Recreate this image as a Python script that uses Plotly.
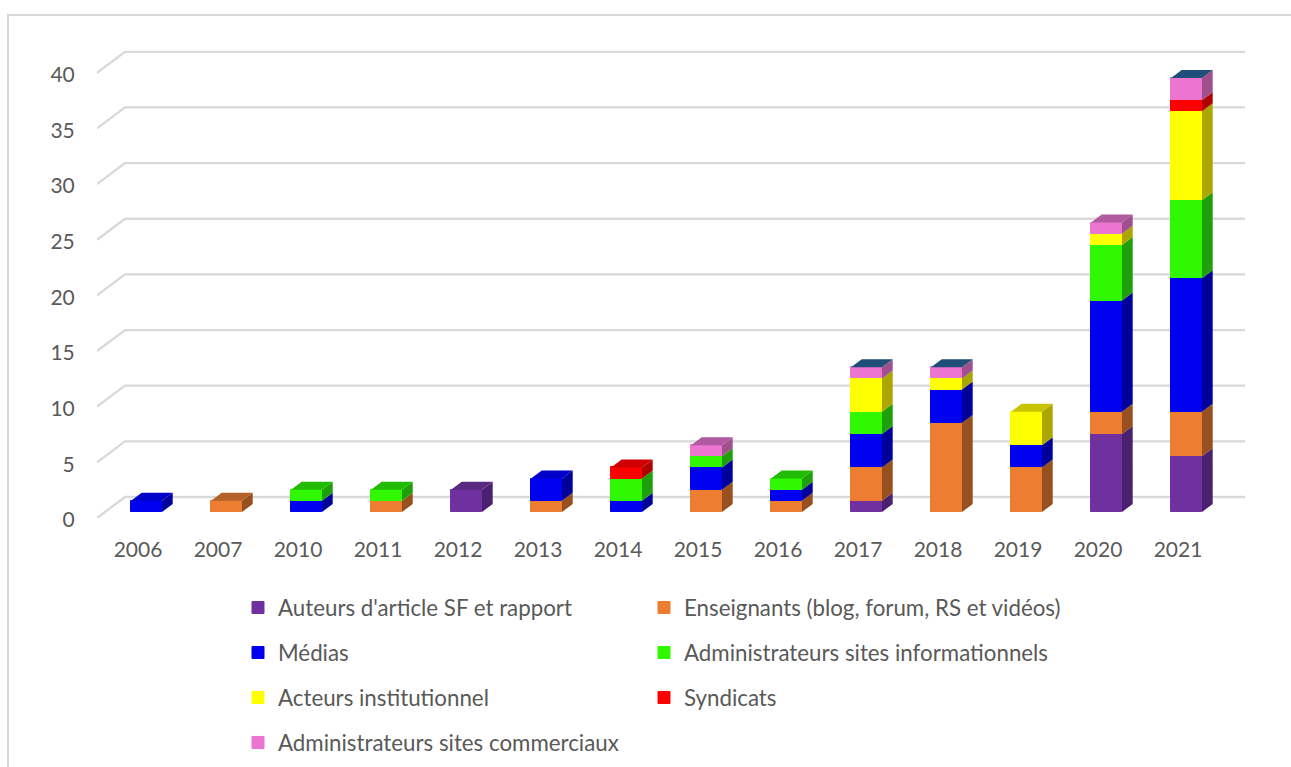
import plotly.graph_objects as go

years = ["2006", "2007", "2010", "2011", "2012", "2013", "2014", "2015", "2016", "2017", "2018", "2019", "2020", "2021"]
series_names = [
    "Auteurs d'article SF et rapport",
    "Enseignants (blog, forum, RS et vidéos)",
    "Médias",
    "Administrateurs sites informationnels",
    "Acteurs institutionnel",
    "Syndicats",
    "Administrateurs sites commerciaux",
]
auteurs = [0, 0, 0, 0, 2, 0, 0, 0, 0, 1, 0, 0, 7, 5]
enseignants = [0, 1, 0, 1, 0, 1, 0, 2, 1, 3, 8, 4, 2, 4]
medias = [1, 0, 1, 0, 0, 2, 1, 2, 1, 3, 3, 2, 10, 12]
admin_info = [0, 0, 1, 1, 0, 0, 2, 1, 1, 2, 0, 0, 5, 7]
acteurs = [0, 0, 0, 0, 0, 0, 0, 0, 0, 3, 1, 3, 1, 8]
syndicats = [0, 0, 0, 0, 0, 0, 1, 0, 0, 0, 0, 0, 0, 1]
admin_comm = [0, 0, 0, 0, 0, 0, 0, 1, 0, 1, 1, 0, 1, 2]
# Years whose stack is capped by an empty, unnamed extra series (dark lid in the picture)
capped_years = ["2017", "2018", "2021"]
y_ticks = [0, 5, 10, 15, 20, 25, 30, 35, 40]

all_series = [auteurs, enseignants, medias, admin_info, acteurs, syndicats, admin_comm]
front_colors = ["#7030A0", "#ED7D31", "#0000F0", "#30F800", "#FFFF00", "#FF0000", "#EC75D0"]
side_colors = ["#4A2070", "#98501F", "#00009A", "#1F9F0A", "#ABA600", "#B00000", "#A0508C"]
top_colors = ["#5A2A80", "#B5622A", "#0000C8", "#22BB05", "#C8C400", "#D00000", "#B05AA0"]
cap_color = "#1F4E79"
font = "Lato"
text_color = "#595959"
grid_color = "#D9D9D9"

PX_X, PX_Y = 80.0, 11.13
BAR_W = 31 / PX_X
OFF_X, OFF_Y = 9.5 / PX_X, 6.0 / PX_Y
DEP_X, DEP_Y = 10.7 / PX_X, 8.0 / PX_Y
WALL_X, WALL_Y = 28 / PX_X, 21 / PX_Y

PL, PR, PT, PB = 97, 1245, 40, 518
W, H = 1291, 767
xs = list(range(len(years)))

fig = go.Figure()

totals = [sum(s[i] for s in all_series) for i in xs]
cum = [0.0] * len(xs)
for k, (name, vals) in enumerate(zip(series_names, all_series)):
    bases = [c + OFF_Y for c in cum]
    fig.add_bar(
        x=[i + OFF_X for i in xs],
        y=[v if v else None for v in vals],
        base=bases,
        width=BAR_W,
        name=name,
        marker=dict(color=front_colors[k], line=dict(color=front_colors[k], width=1)),
        legend="legend" if k % 2 == 0 else "legend2",
        legendgroup=name,
        hoverinfo="skip",
    )
    sx, sy, tx, ty, cx, cy = [], [], [], [], [], []
    for i in xs:
        if not vals[i]:
            continue
        b, t = bases[i], bases[i] + vals[i]
        left, right = i + OFF_X - BAR_W / 2, i + OFF_X + BAR_W / 2
        sx += [right, right + DEP_X, right + DEP_X, right, right, None]
        sy += [b, b + DEP_Y, t + DEP_Y, t, b, None]
        if cum[i] + vals[i] == totals[i]:
            px_, py_ = (cx, cy) if years[i] in capped_years else (tx, ty)
            px_ += [left, right, right + DEP_X, left + DEP_X, left, None]
            py_ += [t, t, t + DEP_Y, t + DEP_Y, t, None]
    fig.add_scatter(x=sx, y=sy, mode="none", fill="toself", fillcolor=side_colors[k],
                    showlegend=False, hoverinfo="skip")
    if tx:
        fig.add_scatter(x=tx, y=ty, mode="none", fill="toself", fillcolor=top_colors[k],
                        showlegend=False, hoverinfo="skip")
    if cx:
        fig.add_scatter(x=cx, y=cy, mode="none", fill="toself", fillcolor=cap_color,
                        showlegend=False, hoverinfo="skip")
    cum = [c + v for c, v in zip(cum, vals)]

x0 = -0.5
x1 = len(years) - 0.5
shapes = []
for v in y_ticks:
    shapes.append(dict(
        type="path", layer="below", xref="x", yref="y",
        path=f"M{x0},{v} L{x0 + WALL_X},{v + WALL_Y} L{x1 + WALL_X},{v + WALL_Y}",
        line=dict(color=grid_color, width=2.3),
    ))
# chart frame, left and top only
fx = lambda p: (p - PL) / (PR - PL)
fy = lambda p: (PB - p) / (PB - PT)
shapes.append(dict(
    type="path", xref="paper", yref="paper", layer="below",
    path=f"M{fx(8)},{fy(767)} L{fx(8)},{fy(15)} L{fx(1291)},{fy(15)}",
    line=dict(color="#D9D9D9", width=2),
))

legend_common = dict(
    orientation="v", traceorder="grouped", tracegroupgap=13,
    bgcolor="rgba(0,0,0,0)", font=dict(family=font, size=22.3, color=text_color),
    xanchor="left", yanchor="top", itemclick=False, itemdoubleclick=False,
)
fig.update_layout(
    width=W, height=H,
    margin=dict(l=PL, r=W - PR, t=PT, b=H - PB, autoexpand=False),
    paper_bgcolor="white", plot_bgcolor="rgba(0,0,0,0)",
    barmode="overlay", bargap=0,
    shapes=shapes,
    showlegend=True,
    legend=dict(x=fx(238), y=fy(586.5), **legend_common),
    legend2=dict(x=fx(644), y=fy(586.5), **legend_common),
    font=dict(family=font, size=21, color=text_color),
    xaxis=dict(
        range=[x0, (PR - 137) / PX_X], tickmode="array", tickvals=xs, ticktext=years,
        showgrid=False, zeroline=False, showline=False,
        ticks="outside", ticklen=13, tickcolor="rgba(0,0,0,0)", ticklabelshift=1,
    ),
    yaxis=dict(
        range=[0, (PB - PT) / PX_Y], tickmode="array", tickvals=y_ticks,
        showgrid=False, zeroline=False, showline=False,
        ticks="outside", ticklen=17, tickcolor="rgba(0,0,0,0)", ticklabelshift=2,
    ),
)

fig.write_html("out.html", config={"displayModeBar": False},
               post_script="document.body.style.margin='0';document.body.style.overflow='hidden';")
